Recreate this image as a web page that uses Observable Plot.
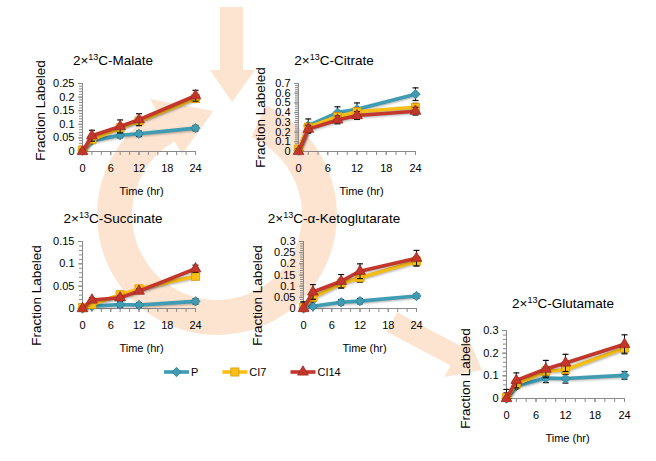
<!DOCTYPE html>
<html><head><meta charset="utf-8">
<script src="https://cdn.jsdelivr.net/npm/d3@7"></script>
<script src="https://cdn.jsdelivr.net/npm/@observablehq/plot@0.6"></script>
<style>
body{margin:0;background:#fff;}
#root{position:relative;width:656px;height:461px;overflow:hidden;font-family:"Liberation Sans",Arial,sans-serif;background:#fff;}
#root svg{position:absolute;}
</style></head><body><div id="root"></div>
<script>
// ---- data ----
const times = [0, 2, 8, 12, 24];
const seriesNames = ["P", "CI7", "CI14"];
const seriesColors = ["#3f9cb3", "#f8bf16", "#c3362b"];
const seriesEdges = ["#2d7f93", "#d99a00", "#9e2a21"];
const seriesSymbols = ["diamond2", "square", "triangle"];
const seriesR = [4.2, 4.6, 4.0];

const malateP    = [0.003, 0.040, 0.060, 0.065, 0.086];
const malateCI7  = [0.005, 0.043, 0.087, 0.112, 0.195];
const malateCI14 = [0.000, 0.058, 0.092, 0.117, 0.205];
const malateErrP    = [0.005, 0.008, 0.010, 0.010, 0.010];
const malateErrCI7  = [0.005, 0.010, 0.012, 0.012, 0.012];
const malateErrCI14 = [0.008, 0.020, 0.024, 0.022, 0.020];

const citrateP    = [0.010, 0.265, 0.400, 0.435, 0.590];
const citrateCI7  = [0.025, 0.250, 0.360, 0.410, 0.455];
const citrateCI14 = [0.000, 0.230, 0.325, 0.370, 0.415];
const citrateErrP    = [0.050, 0.070, 0.060, 0.065, 0.065];
const citrateErrCI7  = [0.030, 0.040, 0.040, 0.040, 0.040];
const citrateErrCI14 = [0.030, 0.040, 0.040, 0.040, 0.040];

const succinateP    = [0.000, 0.005, 0.009, 0.008, 0.016];
const succinateCI7  = [0.002, 0.009, 0.031, 0.044, 0.072];
const succinateCI14 = [0.000, 0.019, 0.024, 0.039, 0.089];
const succinateErrP    = [0.003, 0.004, 0.006, 0.005, 0.006];
const succinateErrCI7  = [0.003, 0.004, 0.004, 0.005, 0.005];
const succinateErrCI14 = [0.003, 0.005, 0.005, 0.005, 0.008];

const ketoP    = [0.000, 0.010, 0.028, 0.033, 0.056];
const ketoCI7  = [0.005, 0.050, 0.112, 0.138, 0.212];
const ketoCI14 = [0.000, 0.074, 0.122, 0.167, 0.225];
const ketoErrP    = [0.010, 0.005, 0.012, 0.012, 0.010];
const ketoErrCI7  = [0.020, 0.020, 0.020, 0.020, 0.020];
const ketoErrCI14 = [0.030, 0.033, 0.030, 0.033, 0.035];

const glutP    = [0.000, 0.055, 0.090, 0.088, 0.102];
const glutCI7  = [0.005, 0.063, 0.120, 0.127, 0.222];
const glutCI14 = [0.000, 0.080, 0.130, 0.157, 0.239];
const glutErrP    = [0.010, 0.010, 0.020, 0.020, 0.017];
const glutErrCI7  = [0.020, 0.020, 0.020, 0.020, 0.020];
const glutErrCI14 = [0.040, 0.033, 0.038, 0.038, 0.042];

const xTickLabels = [0, 6, 12, 18, 24];
const xMinorTicks = [0, 2, 4, 6, 8, 10, 12, 14, 16, 18, 20, 22, 24];

// ---- layout ----
const charts = [
  {name: "Malate", ymax: 0.25, major: 0.05, minor: 0.01,
   vals: [malateP, malateCI7, malateCI14], errs: [malateErrP, malateErrCI7, malateErrCI14],
   x0: 82, x24: 195, y0: 151, ytop: 83, titleX: 113, titleY: 65, labelX: 40, labelY: 110, timeX: 141, timeY: 191},
  {name: "Citrate", ymax: 0.7, major: 0.1, minor: 0.02,
   vals: [citrateP, citrateCI7, citrateCI14], errs: [citrateErrP, citrateErrCI7, citrateErrCI14],
   x0: 298, x24: 415, y0: 151, ytop: 83, titleX: 334, titleY: 65, labelX: 260, labelY: 117, timeX: 361, timeY: 191},
  {name: "Succinate", ymax: 0.15, major: 0.05, minor: 0.01,
   vals: [succinateP, succinateCI7, succinateCI14], errs: [succinateErrP, succinateErrCI7, succinateErrCI14],
   x0: 82, x24: 195, y0: 308, ytop: 241, titleX: 113, titleY: 223, labelX: 36, labelY: 295, timeX: 141, timeY: 348},
  {name: "α-Ketoglutarate", ymax: 0.3, major: 0.05, minor: 0.01,
   vals: [ketoP, ketoCI7, ketoCI14], errs: [ketoErrP, ketoErrCI7, ketoErrCI14],
   x0: 303, x24: 416, y0: 308, ytop: 241, titleX: 334, titleY: 223, labelX: 257, labelY: 295, timeX: 364, timeY: 348},
  {name: "Glutamate", ymax: 0.3, major: 0.1, minor: 0.02,
   vals: [glutP, glutCI7, glutCI14], errs: [glutErrP, glutErrCI7, glutErrCI14],
   x0: 506, x24: 624, y0: 398, ytop: 330, titleX: 563, titleY: 308, labelX: 465, labelY: 378, timeX: 567, timeY: 438}
];

const root = document.getElementById("root");
const axisGray = "#8a8a8a";
const peach = "#fde4d1";

// ---- background arrows (decoration) ----
const bg = d3.select(root).append("svg").attr("width", 656).attr("height", 461).style("left", "0px").style("top", "0px");
bg.append("path").attr("fill", peach)
  .attr("d", "M220,7 L243,7 L243,70 L255,70 L232,102 L210,70 L220,70 Z");
(function () {
  const cx = 217, cy = 215, ri = 85, ro = 120;
  const P = (a, r) => [cx + r * Math.cos(a * Math.PI / 180), cy + r * Math.sin(a * Math.PI / 180)];
  const a0 = -66, a1 = 240;
  const [o0x, o0y] = P(a0, ro), [o1x, o1y] = P(a1, ro), [i1x, i1y] = P(a1, ri), [i0x, i0y] = P(a0, ri);
  const [bo, bi, tip] = [P(a1, 134), P(a1, 70), P(268, 104)];
  const d = `M${o0x},${o0y} A${ro},${ro} 0 1 1 ${o1x},${o1y} L${bo[0]},${bo[1]} L${tip[0]},${tip[1]} L${bi[0]},${bi[1]} L${i1x},${i1y} A${ri},${ri} 0 1 0 ${i0x},${i0y} Z`;
  bg.append("path").attr("fill", peach).attr("d", d);
})();
(function () {
  const T = [392, 322], ang = 28 * Math.PI / 180;
  const u = [Math.cos(ang), Math.sin(ang)], n = [-Math.sin(ang), Math.cos(ang)];
  const p = (a, b) => [T[0] + a * u[0] + b * n[0], T[1] + a * u[1] + b * n[1]];
  const pts = [p(0, -11), p(72, -11), p(72, -24), p(102, 0), p(72, 24), p(72, 11), p(0, 11)];
  bg.append("path").attr("fill", peach).attr("d", "M" + pts.map(q => q.join(",")).join("L") + "Z");
})();

// ---- charts ----
const capSymbol = {draw(ctx) { ctx.moveTo(-3, 0); ctx.lineTo(3, 0); }};
const fmt = d => String(+d.toFixed(3));

charts.forEach(c => {
  const ml = 64, mr = 16, mt = 14, mb = 60;
  const W = c.x24 - c.x0 + ml + mr, H = c.y0 - c.ytop + mt + mb;
  const majors = d3.range(0, c.ymax + 1e-9, c.major);
  const minors = d3.range(0, c.ymax + 1e-9, c.minor);
  const marks = [
    // minor ticks (outside, no labels)
    Plot.ruleY(minors, {y: d => d, x1: 0, x2: 0, insetLeft: -3, stroke: axisGray}),
    Plot.ruleX(xMinorTicks, {x: d => d, y1: 0, y2: 0, insetTop: 4, stroke: axisGray}),
    // major ticks with labels
    Plot.axisY({ticks: majors, tickSize: 4, tickPadding: 4, tickFormat: fmt, stroke: axisGray, label: null, fontSize: 11}),
    Plot.axisX({ticks: xTickLabels, tickSize: 4, tickPadding: 9, stroke: axisGray, label: null, fontSize: 11}),
    Plot.ruleX([0], {y1: 0, y2: c.ymax, stroke: axisGray}),
    Plot.ruleY([0], {x1: 0, x2: 24, stroke: axisGray}),
    Plot.text(["Fraction Labeled"], {text: d => d, frameAnchor: "left", rotate: -90, textAnchor: "middle", lineAnchor: "middle",
      dx: c.labelX - c.x0, dy: c.labelY - (c.y0 + c.ytop) / 2, fontSize: 13.5}),
    Plot.text(["Time (hr)"], {text: d => d, frameAnchor: "bottom", textAnchor: "middle", lineAnchor: "middle",
      dx: c.timeX - (c.x0 + c.x24) / 2, dy: c.timeY - c.y0, fontSize: 11})
  ];
  seriesNames.forEach((s, i) => {
    const rows = times.map((t, j) => ({t, v: c.vals[i][j], e: c.errs[i][j]}));
    marks.push(
      Plot.ruleX(rows, {x: "t", y1: d => Math.max(0, d.v - d.e), y2: d => d.v + d.e, stroke: "#111", strokeWidth: 1}),
      Plot.dot(rows, {x: "t", y: d => d.v + d.e, symbol: capSymbol, stroke: "#111", strokeWidth: 1.2, fill: "none", r: 3}),
      Plot.dot(rows.filter(d => d.v - d.e > 0), {x: "t", y: d => d.v - d.e, symbol: capSymbol, stroke: "#111", strokeWidth: 1.2, fill: "none", r: 3}),
      Plot.line(rows, {x: "t", y: "v", stroke: seriesColors[i], strokeWidth: 3.6}),
      Plot.dot(rows, {x: "t", y: "v", symbol: seriesSymbols[i], r: seriesR[i], fill: seriesColors[i],
        stroke: seriesEdges[i], strokeWidth: 0.8})
    );
  });
  const svg = Plot.plot({
    width: W, height: H, marginLeft: ml, marginRight: mr, marginTop: mt, marginBottom: mb,
    x: {domain: [0, 24], label: null},
    y: {domain: [0, c.ymax], label: null},
    style: {fontFamily: "'Liberation Sans', Arial, sans-serif", fontSize: "11px", background: "transparent", color: "#000", overflow: "visible"},
    marks
  });
  svg.style.position = "absolute";
  svg.style.left = (c.x0 - ml) + "px";
  svg.style.top = (c.ytop - mt) + "px";
  svg.style.maxWidth = "none";
  svg.querySelectorAll('g[aria-label="line"]').forEach(g => {
    g.style.filter = "drop-shadow(1px 1.5px 1px rgba(0,0,0,0.3))";
  });
  root.appendChild(svg);
});

// ---- overlay: titles and legend ----
const ov = d3.select(root).append("svg").attr("width", 656).attr("height", 461)
  .style("left", "0px").style("top", "0px").style("pointer-events", "none")
  .attr("font-family", "'Liberation Sans', Arial, sans-serif");
charts.forEach(c => {
  const t = ov.append("text").attr("x", c.titleX).attr("y", c.titleY).attr("text-anchor", "middle").attr("font-size", 13.5).attr("fill", "#000");
  t.append("tspan").text("2×");
  t.append("tspan").attr("font-size", 9).attr("dy", -5).text("13");
  t.append("tspan").attr("dy", 5).text("C-" + c.name);
});
let lx = 164;
const ly = 372;
seriesNames.forEach((s, i) => {
  ov.append("line").attr("x1", lx).attr("x2", lx + 25).attr("y1", ly).attr("y2", ly)
    .attr("stroke", seriesColors[i]).attr("stroke-width", 3.6);
  const sym = {diamond2: d3.symbolDiamond2, square: d3.symbolSquare, triangle: d3.symbolTriangle}[seriesSymbols[i]];
  ov.append("path").attr("d", d3.symbol(sym, Math.PI * seriesR[i] ** 2)())
    .attr("transform", `translate(${lx + 12.5},${ly})`).attr("fill", seriesColors[i]).attr("stroke", seriesEdges[i]).attr("stroke-width", 0.8);
  const tx = ov.append("text").attr("x", lx + 27).attr("y", ly + 4).attr("font-size", 11).attr("fill", "#000").text(s);
  lx = lx + 27 + tx.node().getComputedTextLength() + 24;
});
</script></body></html>
